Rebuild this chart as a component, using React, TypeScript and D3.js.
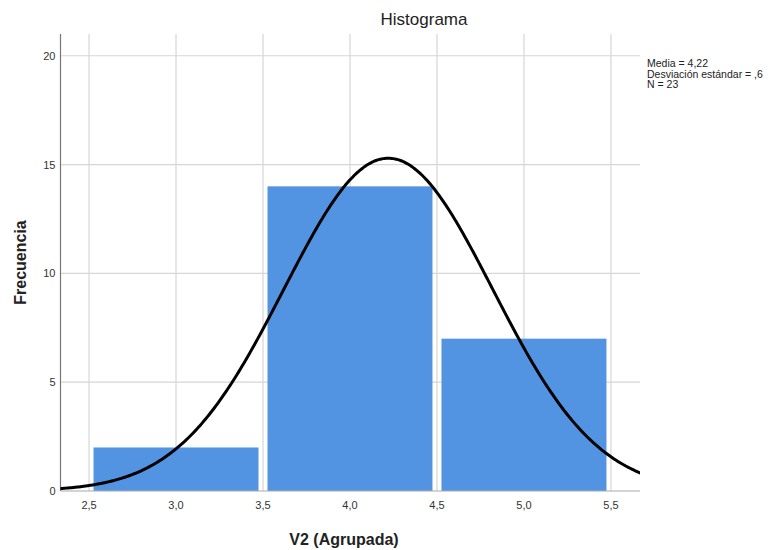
import { useEffect, useRef } from "react";
import * as d3 from "d3";

// histogram bins (V2 agrupada)
const binStarts = [2.5, 3.5, 4.5];
const binWidth = 1;
const counts = [2, 14, 7];
const xTicks = [2.5, 3.0, 3.5, 4.0, 4.5, 5.0, 5.5];
const yTicks = [0, 5, 10, 15, 20];
const mean = 4.22;
const sd = 0.6;
const n = 23;
const statLines = ["Media = 4,22", "Desviación estándar = ,6", "N = 23"];

const fmt = (v: number) => v.toFixed(1).replace(".", ",");

function Histograma() {
  const ref = useRef<SVGSVGElement>(null);

  const width = 770,
    height = 550;
  const margin = { top: 34, right: 130, bottom: 59, left: 60.5 };

  useEffect(() => {
    if (!ref.current) return;
    const svg = d3.select(ref.current);
    svg.selectAll("*").remove();

    const x = d3
      .scaleLinear()
      .domain([2.336, 5.667])
      .range([margin.left, width - margin.right]);
    const y = d3
      .scaleLinear()
      .domain([0, 21])
      .range([height - margin.bottom, margin.top]);

    const font = "Arial, 'Liberation Sans', sans-serif";

    // vertical grid
    svg
      .append("g")
      .selectAll("line")
      .data(xTicks)
      .enter()
      .append("line")
      .attr("x1", (d) => x(d))
      .attr("x2", (d) => x(d))
      .attr("y1", margin.top)
      .attr("y2", height - margin.bottom)
      .attr("stroke", "#d6d6d6")
      .attr("stroke-width", 1.2);

    // horizontal grid
    svg
      .append("g")
      .selectAll("line")
      .data(yTicks.filter((t) => t > 0))
      .enter()
      .append("line")
      .attr("x1", margin.left)
      .attr("x2", width - margin.right)
      .attr("y1", (d) => y(d))
      .attr("y2", (d) => y(d))
      .attr("stroke", "#d6d6d6")
      .attr("stroke-width", 1.2);

    // bars
    const inset = 4.5;
    svg
      .append("g")
      .selectAll("rect")
      .data(counts)
      .enter()
      .append("rect")
      .attr("x", (d, i) => x(binStarts[i]) + inset)
      .attr("width", (d, i) => x(binStarts[i] + binWidth) - x(binStarts[i]) - 2 * inset)
      .attr("y", (d) => y(d))
      .attr("height", (d) => y(0) - y(d))
      .attr("fill", "#5294e2");

    // axes lines
    svg
      .append("line")
      .attr("x1", margin.left)
      .attr("x2", margin.left)
      .attr("y1", margin.top)
      .attr("y2", height - margin.bottom)
      .attr("stroke", "#777")
      .attr("stroke-width", 1.2);
    svg
      .append("line")
      .attr("x1", margin.left)
      .attr("x2", width - margin.right)
      .attr("y1", height - margin.bottom)
      .attr("y2", height - margin.bottom)
      .attr("stroke", "#aaa")
      .attr("stroke-width", 1.2);

    // normal curve
    svg
      .append("clipPath")
      .attr("id", "plotclip")
      .append("rect")
      .attr("x", margin.left)
      .attr("y", margin.top)
      .attr("width", width - margin.left - margin.right)
      .attr("height", height - margin.top - margin.bottom);

    const pts = d3.range(2.3, 5.7, 0.01).map((v) => {
      const z = (v - mean) / sd;
      return [v, (n * binWidth * Math.exp(-0.5 * z * z)) / (sd * Math.sqrt(2 * Math.PI))];
    });
    svg
      .append("path")
      .attr("clip-path", "url(#plotclip)")
      .attr("fill", "none")
      .attr("stroke", "#000")
      .attr("stroke-width", 3)
      .attr(
        "d",
        d3
          .line<number[]>()
          .x((d) => x(d[0]))
          .y((d) => y(d[1]))
          .curve(d3.curveBasis)(pts)
      );

    // tick labels
    svg
      .append("g")
      .selectAll("text")
      .data(yTicks)
      .enter()
      .append("text")
      .attr("x", margin.left - 5)
      .attr("y", (d) => y(d) + 4)
      .attr("text-anchor", "end")
      .style("font-family", font)
      .style("font-size", "11px")
      .attr("fill", "#333")
      .text((d) => d);

    svg
      .append("g")
      .selectAll("text")
      .data(xTicks)
      .enter()
      .append("text")
      .attr("x", (d) => x(d))
      .attr("y", height - margin.bottom + 18)
      .attr("text-anchor", "middle")
      .style("font-family", font)
      .style("font-size", "11px")
      .attr("fill", "#333")
      .text((d) => fmt(d));

    // titles
    svg
      .append("text")
      .attr("x", 424)
      .attr("y", 25)
      .attr("text-anchor", "middle")
      .style("font-family", font)
      .style("font-size", "17px")
      .attr("fill", "#222")
      .text("Histograma");

    svg
      .append("text")
      .attr("transform", `translate(26, ${(margin.top + height - margin.bottom) / 2}) rotate(-90)`)
      .attr("text-anchor", "middle")
      .style("font-family", font)
      .style("font-size", "16px")
      .style("font-weight", "bold")
      .attr("fill", "#222")
      .text("Frecuencia");

    svg
      .append("text")
      .attr("x", 344)
      .attr("y", 545)
      .attr("text-anchor", "middle")
      .style("font-family", font)
      .style("font-size", "16px")
      .style("font-weight", "bold")
      .attr("fill", "#222")
      .text("V2 (Agrupada)");

    // stats
    svg
      .append("g")
      .selectAll("text")
      .data(statLines)
      .enter()
      .append("text")
      .attr("x", 647)
      .attr("y", (d, i) => 67 + i * 10.5)
      .style("font-family", font)
      .style("font-size", "10.5px")
      .attr("fill", "#222")
      .text((d) => d);
  }, []);

  return <svg ref={ref} width={width} height={height} style={{ display: "block" }} />;
}

export default function App() {
  return (
    <div style={{ position: "absolute", left: 0, top: 0 }}>
      <Histograma />
    </div>
  );
}
